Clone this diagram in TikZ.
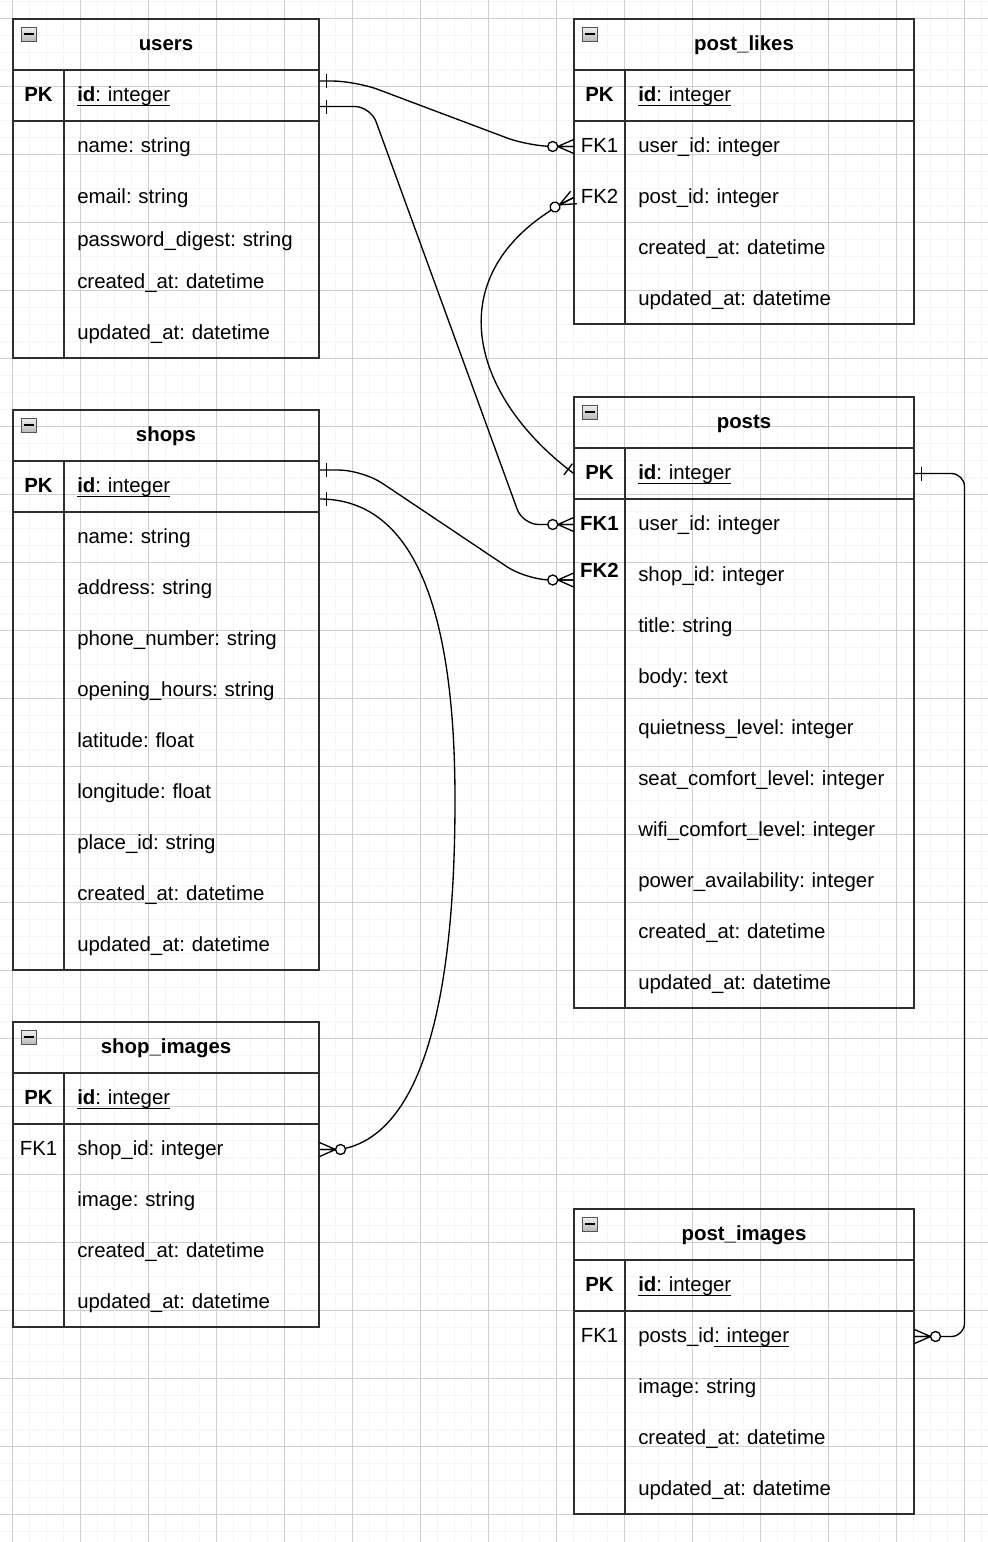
\documentclass[tikz,border=0pt]{standalone}
\usepackage{fontspec}
\setmainfont{Liberation Sans}
\usepackage{tikz}
\usetikzlibrary{calc}

\frenchspacing
\newcommand{\erfont}{\fontsize{15.3pt}{18pt}\selectfont\frenchspacing}
\newsavebox{\ulbox}
\newcommand{\idul}[1]{\sbox{\ulbox}{#1}\rlap{\rule[-3pt]{\wd\ulbox}{0.75pt}}\usebox{\ulbox}}
% ER end marks, drawn pointing to +x (towards the table)
\newcommand{\erbar}[2]{%
  \begin{scope}[shift={(#1)},rotate=#2]
    \draw[conn] (-7,-7) -- (-7,7);
  \end{scope}}
\newcommand{\ercrow}[2]{%
  \begin{scope}[shift={(#1)},rotate=#2]
    \draw[conn] (-16,0) -- (0,-7) (-16,0) -- (0,0) (-16,0) -- (0,7);
    \draw[conn,fill=white] (-21,0) circle[radius=5];
  \end{scope}}

\begin{document}
\begin{tikzpicture}[
  x=0.75pt, y=-0.75pt,
  every node/.style={font=\erfont},
  gridminor/.style={gray!8, line width=1.1pt},
  gridmajor/.style={gray!38, line width=0.6pt},
  tblframe/.style={draw=black!82, line width=1.1pt},
  iconbox/.style={draw=gray!65!black, top color=gray!12, bottom color=gray!55, line width=0.6pt},
  ttl/.style={font=\erfont\bfseries, inner sep=0pt, text height=11pt, text depth=1.3pt},
  attr/.style={anchor=west, inner xsep=9.75pt, inner ysep=0pt, text height=11pt, text depth=1.3pt, align=left},
  attrS/.style={attr, text width=171.75pt},
  attrL/.style={attr, text width=197.25pt},
  keycell/.style={minimum width=38.25pt, inner sep=0pt, text height=11pt, text depth=1.3pt},
  pk/.style={keycell, font=\erfont\bfseries},
  conn/.style={black, line width=1pt},
]
\useasboundingbox (0,0) rectangle (988,1542);
\fill[white] (0,0) rectangle (988,1542);
% background grid
\foreach \i in {0,...,57} \draw[gridminor] ({12.5+17*\i},0) -- ++(0,1542);
\foreach \j in {-1,...,89} \draw[gridminor] (0,{18.6+17*\j}) -- ++(988,0);
\foreach \i in {0,...,14} \draw[gridmajor] ({12.5+68*\i},0) -- ++(0,1542);
\foreach \j in {0,...,22} \draw[gridmajor] (0,{18.6+68*\j}) -- ++(988,0);

% table frames, titles and collapse icons
\foreach \tn/\xa/\ya/\xb/\yb/\tname in {users/13/19/319/358/users, pl/574/19/914/324/post\_likes,
    shops/13/410/319/970/shops, posts/574/397/914/1008/posts,
    si/13/1022/319/1327/shop\_images, pi/574/1209/914/1514/post\_images}{
  \draw[tblframe] (\xa,\ya) rectangle (\xb,\yb);
  \draw[tblframe] (\xa,{\ya+51}) -- (\xb,{\ya+51}) (\xa,{\ya+102}) -- (\xb,{\ya+102})
    ({\xa+51},{\ya+51}) -- ({\xa+51},\yb);
  \node[ttl] (\tn-head) at ({(\xa+\xb)/2},{\ya+25.5}) {\tname};
  \draw[iconbox] ({\xa+8},{\ya+8}) rectangle ++(15,14);
  \draw[line width=1.5pt] ({\xa+10.5},{\ya+15}) -- ++(10,0);
}

% users
\node[pk] (users-pk) at (38.5,95.5) {PK};
\foreach \nm/\yy/\txt in {id/95.5/{\idul{\textbf{id}: integer}}, name/146.5/{name: string},
    email/197.5/{email: string}, pwd/240/{password\_digest: string},
    cat/282/{created\_at: datetime}, uat/333/{updated\_at: datetime}}
  \node[attrS] (users-\nm) at (64,\yy) {\txt};

% post_likes
\node[pk] (pl-pk) at (599.5,95.5) {PK};
\node[keycell] (pl-fk1) at (599.5,146.5) {FK1};
\node[keycell] (pl-fk2) at (599.5,197.5) {FK2};
\foreach \nm/\yy/\txt in {id/95.5/{\idul{\textbf{id}: integer}}, user/146.5/{user\_id: integer},
    post/197.5/{post\_id: integer}, cat/248.5/{created\_at: datetime}, uat/299.5/{updated\_at: datetime}}
  \node[attrL] (pl-\nm) at (625,\yy) {\txt};

% shops
\node[pk] (shops-pk) at (38.5,486.5) {PK};
\foreach \nm/\yy/\txt in {id/486.5/{\idul{\textbf{id}: integer}}, name/537.5/{name: string},
    addr/588.5/{address: string}, phone/639.5/{phone\_number: string},
    open/690.5/{opening\_hours: string}, lat/741.5/{latitude: float},
    lng/792.5/{longitude: float}, place/843.5/{place\_id: string},
    cat/894.5/{created\_at: datetime}, uat/945.5/{updated\_at: datetime}}
  \node[attrS] (shops-\nm) at (64,\yy) {\txt};

% posts
\node[pk] (posts-pk) at (599.5,473.5) {PK};
\node[pk] (posts-fk1) at (599.5,524.5) {FK1};
\node[pk] (posts-fk2) at (599.5,571) {FK2};
\foreach \nm/\yy/\txt in {id/473.5/{\idul{\textbf{id}: integer}}, user/524.5/{user\_id: integer},
    shop/575.5/{shop\_id: integer}, title/626.5/{title: string}, body/677.5/{body: text},
    quiet/728.5/{quietness\_level: integer}, seat/779.5/{seat\_comfort\_level: integer},
    wifi/830.5/{wifi\_comfort\_level: integer}, power/881.5/{power\_availability: integer},
    cat/932.5/{created\_at: datetime}, uat/983.5/{updated\_at: datetime}}
  \node[attrL] (posts-\nm) at (625,\yy) {\txt};

% shop_images
\node[pk] (si-pk) at (38.5,1098.5) {PK};
\node[keycell] (si-fk1) at (38.5,1149.5) {FK1};
\foreach \nm/\yy/\txt in {id/1098.5/{\idul{\textbf{id}: integer}}, shop/1149.5/{shop\_id: integer},
    image/1200.5/{image: string}, cat/1251.5/{created\_at: datetime}, uat/1302.5/{updated\_at: datetime}}
  \node[attrS] (si-\nm) at (64,\yy) {\txt};

% post_images
\node[pk] (pi-pk) at (599.5,1285.5) {PK};
\node[keycell] (pi-fk1) at (599.5,1336.5) {FK1};
\foreach \nm/\yy/\txt in {id/1285.5/{\idul{\textbf{id}: integer}}, posts/1336.5/{posts\_id\idul{: integer}},
    image/1387.5/{image: string}, cat/1438.5/{created\_at: datetime}, uat/1489.5/{updated\_at: datetime}}
  \node[attrL] (pi-\nm) at (625,\yy) {\txt};

% relations
\coordinate (u1) at ($(users-id.east)+(0,-14.5)$);
\coordinate (u2) at ($(users-id.east)+(0,11)$);
\coordinate (s1) at ($(shops-id.east)+(0,-16.5)$);
\coordinate (s2) at ($(shops-id.east)+(0,12.5)$);
\coordinate (p2) at ($(posts-fk2.west)+(0,9)$);
\draw[conn,rounded corners=18pt] (u1) -- ++(36,0) -- ($(pl-fk1.west)+(-44,0)$) -- (pl-fk1.west);
\draw[conn,rounded corners=12pt] (u2) -- ++(51,0) -- ($(posts-fk1.west)+(-51,0)$) -- (posts-fk1.west);
\draw[conn,rounded corners=18pt] (s1) -- ++(43,0) -- ($(p2)+(-47,0)$) -- (p2);
\draw[conn] (pl-fk2.west) .. controls ($(pl-fk2.west)+(-138,69)$) and ($(posts-pk.west)+(-108,-81)$) .. (posts-pk.west);
\draw[conn] (s2) .. controls ($(s2)+(81,0)$) and (455,580) .. (455,800)
  .. controls (455,1060) and (400,1140) .. ($(si-shop.east)+(20,0)$) -- (si-shop.east);
\draw[conn,rounded corners=10pt] (posts-id.east) -- ++(50,0) |- (pi-posts.east);

% end marks
\erbar{u1}{180}
\erbar{u2}{180}
\erbar{s1}{180}
\erbar{s2}{180}
\erbar{posts-id.east}{180}
\erbar{posts-pk.west}{-37}
\ercrow{pl-fk1.west}{0}
\ercrow{pl-fk2.west}{27}
\ercrow{posts-fk1.west}{0}
\ercrow{p2}{0}
\ercrow{si-shop.east}{180}
\ercrow{pi-posts.east}{180}
\end{tikzpicture}
\end{document}
